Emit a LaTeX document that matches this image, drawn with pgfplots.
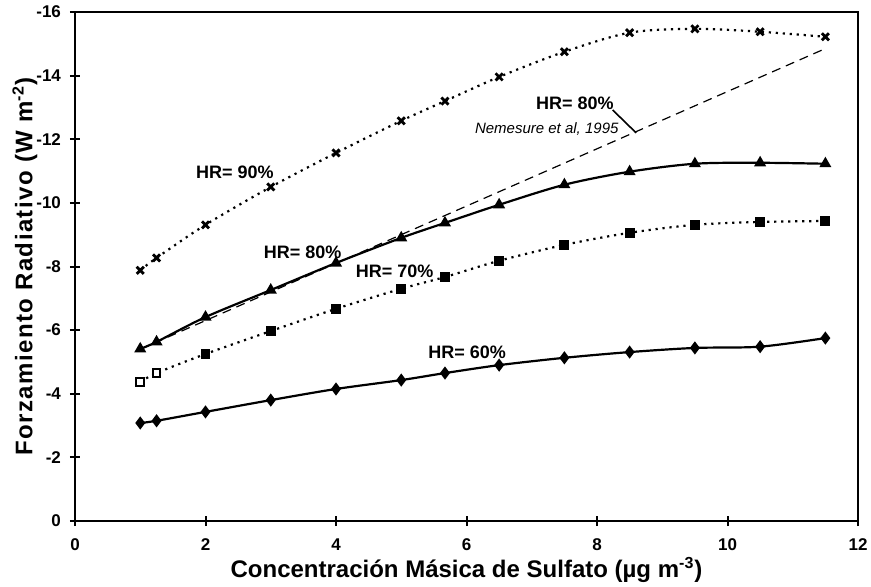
\documentclass[border=0pt]{standalone}
\usepackage{fontspec}
\setmainfont{Liberation Sans}
\usepackage{pgfplots}
\pgfplotsset{compat=1.18}
\begin{document}
\begin{tikzpicture}
\useasboundingbox (-37.5pt,-33pt) rectangle (398pt,260.5pt);
\begin{axis}[
  at={(0pt,0pt)}, anchor=south west,
  scale only axis, width=391.5pt, height=254.5pt,
  xmin=0, xmax=12, ymin=-16, ymax=0,
  y dir=reverse,
  xtick={0,2,...,12}, ytick={-16,-14,...,0},
  tick align=center, major tick length=5pt,
  xtick pos=left, ytick pos=left,
  axis line style={line width=1.3pt},
  every tick/.style={line width=1pt, black},
  tick label style={font=\fontsize{8.5}{10}\selectfont\bfseries},
  /pgf/number format/assume math mode=true,
  yticklabel style={xshift=-1pt},
  xticklabel style={yshift=-3pt},
  xlabel={Concentración Másica de Sulfato (µg m\textsuperscript{-3})},
  ylabel={\addfontfeature{LetterSpace=6}Forzamiento Radiativo (W m\textsuperscript{-2})},
  xlabel style={font=\fontsize{12}{14}\selectfont\bfseries, at={(axis description cs:0.5,-0.0963)}, anchor=center},
  ylabel style={font=\fontsize{12}{14}\selectfont\bfseries, at={(axis description cs:-0.0639,0.5)}, anchor=center},
  clip=false,
]
% HR = 90%
\addplot[black, line width=1.1pt, dash pattern=on 1.1pt off 2.4pt, smooth, mark=x, mark size=2.5pt,
  mark options={solid, line width=1.4pt}] coordinates {
(1,-7.88) (1.25,-8.27) (2,-9.31) (3,-10.50) (4,-11.57) (5,-12.58) (5.67,-13.20)
(6.5,-13.96) (7.5,-14.75) (8.5,-15.35) (9.5,-15.47) (10.5,-15.38) (11.5,-15.22)};
% Nemesure et al, 1995
\addplot[black, line width=0.6pt, dash pattern=on 4.5pt off 3pt] coordinates {
(1,-5.40) (2,-6.30) (3,-7.20) (4,-8.10) (5,-9.00) (6.5,-10.35) (8.5,-12.15) (11.5,-14.85)};
% HR = 80%
\addplot[black, line width=1.1pt, smooth, mark=triangle*, mark size=2.4pt] coordinates {
(1,-5.41) (1.25,-5.63) (2,-6.41) (3,-7.26) (4,-8.11) (5,-8.90) (5.67,-9.37)
(6.5,-9.94) (7.5,-10.57) (8.5,-10.98) (9.5,-11.23) (10.5,-11.26) (11.5,-11.23)};
% HR = 70%
\addplot[black, line width=1.1pt, dash pattern=on 1.1pt off 2.4pt, smooth, mark=square*, mark size=1.9pt,
  mark options={solid}] coordinates {
(1,-4.37) (1.25,-4.65) (2,-5.25) (3,-5.97) (4,-6.67) (5,-7.30) (5.67,-7.67)
(6.5,-8.18) (7.5,-8.68) (8.5,-9.06) (9.5,-9.31) (10.5,-9.40) (11.5,-9.43)};
\addplot[only marks, mark=square*, mark size=1.9pt, mark options={fill=white, draw=black, line width=1pt}] coordinates {
(1,-4.37) (1.25,-4.65)};
% HR = 60%
\addplot[black, line width=1.1pt, smooth, mark=diamond*, mark size=2.4pt] coordinates {
(1,-3.08) (1.25,-3.15) (2,-3.43) (3,-3.80) (4,-4.15) (5,-4.43) (5.67,-4.65)
(6.5,-4.90) (7.5,-5.13) (8.5,-5.31) (9.5,-5.44) (10.5,-5.48) (11.5,-5.75)};
% annotations
\node[font=\fontsize{9}{10}\selectfont\bfseries] at (axis cs:2.45,-10.97) {HR= 90\%};
\node[font=\fontsize{9}{10}\selectfont\bfseries] at (axis cs:7.66,-13.14) {HR= 80\%};
\node[font=\fontsize{7.5}{9}\selectfont\itshape] at (axis cs:7.23,-12.32) {Nemesure et al, 1995};
\draw[black, line width=0.8pt] (axis cs:8.24,-12.92) -- (axis cs:8.60,-12.20);
\node[font=\fontsize{9}{10}\selectfont\bfseries] at (axis cs:3.49,-8.46) {HR= 80\%};
\node[font=\fontsize{9}{10}\selectfont\bfseries] at (axis cs:4.90,-7.86) {HR= 70\%};
\node[font=\fontsize{9}{10}\selectfont\bfseries] at (axis cs:6.01,-5.31) {HR= 60\%};
\end{axis}
\end{tikzpicture}
\end{document}
